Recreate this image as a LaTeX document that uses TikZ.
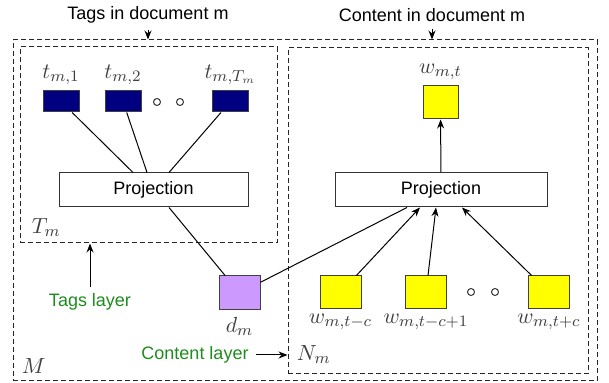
\documentclass[tikz,border=0pt]{standalone}
\usepackage{fontspec}
\newfontfamily\arialfont{Liberation Sans}
\usetikzlibrary{positioning,arrows.meta}
\definecolor{cTag}{RGB}{0,0,128}
\definecolor{cDoc}{RGB}{204,153,255}
\definecolor{cWrd}{RGB}{255,255,0}
\definecolor{cLay}{RGB}{30,140,30}

\begin{document}
\begin{tikzpicture}[
  x=0.5pt, y=-0.5pt,
  font=\arialfont\fontsize{9}{11}\selectfont,
  sq/.style    = {draw=black!75, line width=0.5pt, inner sep=0pt},
  tag/.style   = {sq, fill=cTag, minimum width=18pt, minimum height=10.5pt},
  wrd/.style   = {sq, fill=cWrd, minimum width=20.5pt, minimum height=16.5pt},
  proj/.style  = {draw=black!80, line width=0.5pt, minimum height=17pt, inner sep=0pt},
  lbl/.style   = {font=\fontsize{11}{13}\selectfont, text=black!75, inner sep=1pt},
  dot/.style   = {circle, draw=black!80, line width=0.5pt, minimum size=3.5pt, inner sep=0pt},
  layer/.style = {draw=black!85, dash pattern=on 2.5pt off 1.5pt, line width=0.5pt,
                  inner sep=0pt},
  flow/.style  = {-{Stealth[length=4.5pt, width=3.5pt]}, line width=0.5pt},
  note/.style  = {text=cLay}
]
\useasboundingbox (0,0) rectangle (609,383);

% ------------------------------------------------------------- i riquadri --
\node[layer, minimum width=292pt, minimum height=170.5pt] (boxM) at (305,210.5) {};
\node[layer, minimum width=128.5pt, minimum height=98pt]  (boxT) at (148.5,145) {};
\node[layer, minimum width=150pt, minimum height=163pt]   (boxN) at (438,211) {};
\node[lbl, anchor=base west] (lT) at ([xshift=5pt, yshift=5pt]boxT.south west) {$T_m$};
\node[lbl, anchor=base west] (lM) at ([xshift=3.5pt, yshift=4pt]boxM.south west) {$M$};
\node[lbl, anchor=base west] (lN) at ([xshift=3.5pt, yshift=7pt]boxN.south west) {$N_m$};

% ------------------------------------------------------------ livello tag --
\node[tag] (t1) at (61,101.5)  {};
\node[tag] (t2) at (123,101.5) {};
\node[tag] (tT) at (230.5,101.5) {};
\node[dot] (td1) at (157,102) {};
\node[dot] (td2) at (180,102) {};
\node[lbl, above=1.5pt of t1] (lt1) {$t_{m,1}$};
\node[lbl, above=1.5pt of t2] (lt2) {$t_{m,2}$};
\node[lbl, above=1.5pt of tT] (ltT) {$t_{m,T_m}$};
\node[proj, minimum width=94.5pt] (projL) at (153.5,190) {Projection};

\draw[line width=0.5pt] (t1) -- ([xshift=-10.25pt]projL.north);
\draw[line width=0.5pt] (t2) -- ([xshift=-3.25pt]projL.north);
\draw[line width=0.5pt] (tT) -- ([xshift=7.75pt]projL.north);

% -------------------------------------------------------- livello contenuto --
\node[wrd, minimum width=17.5pt] (wt) at (440.5,102.5) {};
\node[lbl, above=1.5pt of wt] (lwt) {$w_{m,t}$};
\node[proj, minimum width=106pt] (projR) at (441,190) {Projection};
\node[wrd] (w1) at (340.5,292.5) {};
\node[wrd] (w2) at (426,292.5) {};
\node[wrd] (w3) at (549,292.5) {};
\node[dot] (wd1) at (471,292) {};
\node[dot] (wd2) at (495,292) {};
\node[lbl, below=1pt of w1] (lw1) {$w_{m,t-c}$};
\node[lbl, below=1pt of w2] (lw2) {$w_{m,t-c+1}$};
\node[lbl, below=1pt of w3] (lw3) {$w_{m,t+c}$};

\draw[flow] (projR) -- (wt);
\draw[flow] (w1) -- ([xshift=-10.5pt]projR.south);
\draw[flow] (w2) -- ([xshift=-2.5pt]projR.south);
\draw[flow] (w3) -- ([xshift=10.5pt]projR.south);

% --------------------------------------------------------------- documento --
\node[sq, fill=cDoc, minimum width=20.5pt, minimum height=17pt] (dm) at (239.5,293) {};
\node[lbl, below=2pt of dm] (ldm) {$d_m$};
\draw[line width=0.5pt] ([xshift=7.75pt]projL.south) -- (dm);
\draw[line width=0.5pt] (dm) -- ([xshift=-17pt]projR.south);

% ------------------------------------------------------------- didascalie --
\node (tagsIn) at (148,15) {Tags in document m};
\node (conIn)  at (432,15) {Content in document m};
\draw[flow] (tagsIn) -- (tagsIn |- boxM.north);
\draw[flow] (conIn)  -- (conIn |- boxM.north);

\node[note] (tagsLay) at (90,302) {Tags layer};
\node[note] (conLay)  at (195,355) {Content layer};
\draw[flow] (tagsLay) -- (tagsLay |- boxT.south);
\draw[flow] (conLay)  -- (conLay -| boxN.west);

\end{tikzpicture}
\end{document}
